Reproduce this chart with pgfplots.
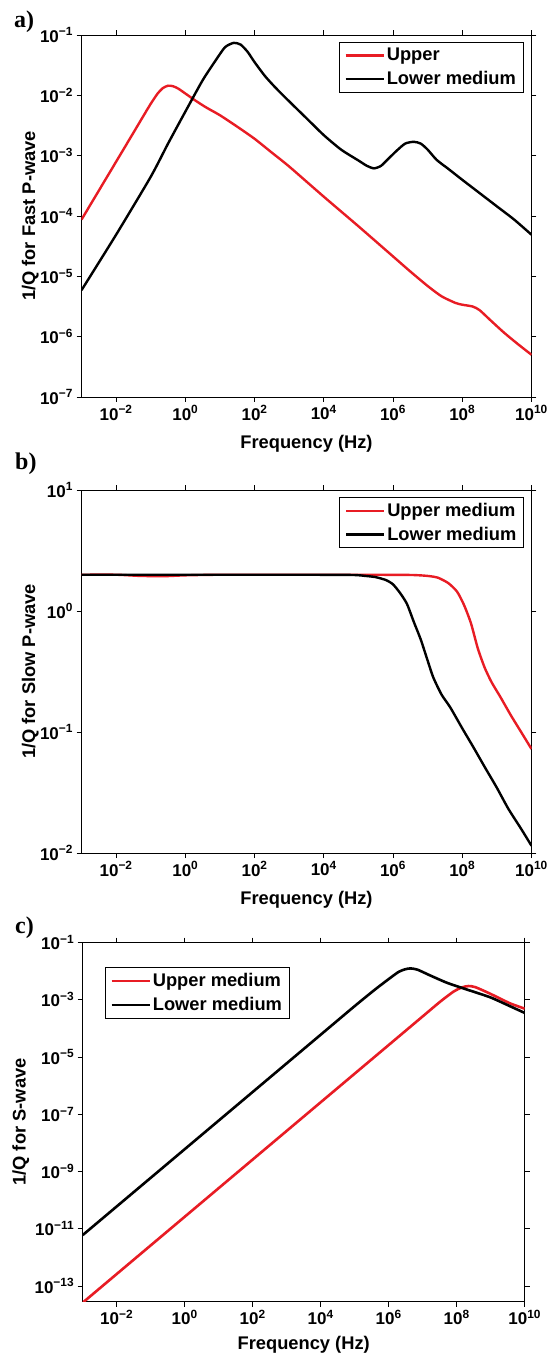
\documentclass[border=0pt]{standalone}
\usepackage{pgfplots}
\pgfplotsset{compat=1.18}
\usepackage{fontspec}
\setmainfont{Liberation Sans}
\newfontfamily\serifb{Liberation Serif}
\definecolor{myred}{RGB}{232,28,36}
\newcommand\logtick[1]{\pgfmathtruncatemacro\myexp{round(#1)}\textbf{10\textsuperscript{\ifnum\myexp<0 −\the\numexpr-\myexp\relax\else\myexp\fi}}}
\pgfplotsset{
  every axis/.append style={
    scale only axis,
    tick align=outside,
    major tick length=5pt, minor tick length=3pt,
    axis line style={line width=0.9pt},
    every tick/.style={black, line width=0.8pt},
    ticklabel style={font=\fontsize{17}{19}\selectfont},
    label style={font=\fontsize{18.3}{20}\selectfont\bfseries},
    legend style={font=\fontsize{18.3}{20}\selectfont\bfseries, draw=black, line width=0.9pt, inner xsep=5pt, inner ysep=4pt, row sep=5pt},
    legend cell align=left,
  },
  every axis plot/.append style={line width=2.4pt, no marks, smooth, tension=0.4},
}
\begin{document}
\begin{tikzpicture}
\useasboundingbox (0,0) rectangle (551pt,-1356pt);
% ---------------- panel a
\begin{axis}[
  xmode=log, ymode=log, log basis x=10, log basis y=10,
  xmin=1e-3, xmax=1e10,
  xtick={1e-2,1,1e2,1e4,1e6,1e8,1e10}, minor xtick={},
  xticklabel={\logtick{\tick}}, yticklabel={\logtick{\tick}},
  legend image code/.code={\draw[#1, line width=2.4pt] (0pt,0pt) -- (38pt,0pt);},
  at={(81.5pt,-397pt)}, anchor=south west, width=450pt, height=362pt,
  ymin=1e-7, ymax=1e-1,
  ytick={1e-7,1e-6,1e-5,1e-4,1e-3,1e-2,1e-1},
  xlabel={Frequency (Hz)},
  xlabel style={at={(axis description cs:0.5,-0.141)}, anchor=base},
  ylabel style={at={(axis description cs:-0.103,0.5)}, anchor=base},
  ylabel={1/Q for Fast P-wave},
  legend style={at={(0.982,0.981)}, anchor=north east},
]
\addplot[myred] coordinates {
(1e-3,8.71e-5) (3.162e-3,2.630e-4) (1e-2,7.943e-4) (3.162e-2,2.399e-3) (6.310e-2,4.677e-3)
(0.1,7.244e-3) (0.1585,1.072e-2) (0.2239,1.318e-2) (0.3162,1.445e-2) (0.4467,1.413e-2)
(0.6310,1.288e-2) (1,1.072e-2) (1.995,8.128e-3) (3.981,6.310e-3) (10,4.677e-3)
(31.62,3.020e-3) (100,1.905e-3) (316.2,1.122e-3) (1000,6.607e-4) (1e4,2.089e-4)
(1e5,6.761e-5) (1e6,2.138e-5) (3.162e6,1.202e-5) (1e7,6.918e-6) (2.512e7,4.677e-6)
(6.310e7,3.631e-6) (1e8,3.388e-6) (1.995e8,3.162e-6) (3.162e8,2.754e-6) (6.310e8,1.905e-6)
(1.585e9,1.175e-6) (3.981e9,7.586e-7) (1e10,5.012e-7)};
\addlegendentry{Upper}
\addplot[black] coordinates {
(1e-3,5.888e-6) (1e-2,4.9e-5) (0.1,4.467e-4) (0.3162,1.585e-3) (1,5.370e-3)
(3.162,1.778e-2) (7.943,3.981e-2) (14.13,6.310e-2) (25.12,7.413e-2) (39.81,6.918e-2)
(63.10,5.248e-2) (100,3.548e-2) (199.5,2.089e-2) (398.1,1.349e-2) (1000,7.943e-3)
(3162,4.169e-3) (1e4,2.188e-3) (3.162e4,1.259e-3) (1e5,8.318e-4) (1.778e5,6.761e-4)
(2.818e5,6.166e-4) (4.467e5,6.761e-4) (7.079e5,8.710e-4) (1.259e6,1.202e-3) (2.239e6,1.585e-3)
(3.981e6,1.698e-3) (6.310e6,1.585e-3) (1e7,1.259e-3) (1.820e7,8.511e-4) (3.981e7,6.026e-4)
(1e8,3.981e-4) (3.162e8,2.399e-4) (1e9,1.445e-4) (3.162e9,8.710e-5) (1e10,4.898e-5)};
\addlegendentry{Lower medium}
\end{axis}
\node[font=\serifb\bfseries\fontsize{24}{26}\selectfont, anchor=base west, inner sep=0pt] at (14pt,-27.5pt) {a)};
% ---------------- panel b
\begin{axis}[
  xmode=log, ymode=log, log basis x=10, log basis y=10,
  xmin=1e-3, xmax=1e10,
  xtick={1e-2,1,1e2,1e4,1e6,1e8,1e10}, minor xtick={},
  xticklabel={\logtick{\tick}}, yticklabel={\logtick{\tick}},
  legend image code/.code={\draw[#1, line width=2.4pt] (0pt,0pt) -- (38pt,0pt);},
  at={(81.5pt,-853pt)}, anchor=south west, width=450pt, height=363pt,
  ymin=1e-2, ymax=10,
  ytick={1e-2,1e-1,1,10},
  xlabel={Frequency (Hz)},
  xlabel style={at={(axis description cs:0.5,-0.141)}, anchor=base},
  ylabel style={at={(axis description cs:-0.103,0.5)}, anchor=base},
  ylabel={1/Q for Slow P-wave},
  legend style={at={(0.983,0.981)}, anchor=north east},
]
\addplot[myred] coordinates {
(1e-3,1.995) (1e-2,1.995) (0.05012,1.950) (0.2512,1.941) (1,1.972) (10,1.995)
(1e3,1.995) (1e5,1.995) (3.162e6,1.986) (1e7,1.950) (1.995e7,1.884) (3.981e7,1.698)
(7.079e7,1.445) (1.122e8,1.122) (1.778e8,0.7943) (2.818e8,0.4898) (4.467e8,0.3388)
(7.079e8,0.2570) (1.259e9,0.1950) (2.512e9,0.1380) (5.012e9,0.1) (1e10,0.07244)};
\addlegendentry{Upper medium}
\addplot[black] coordinates {
(1e-3,1.995) (1e-1,1.995) (10,1.995) (1e3,1.995) (6.310e4,1.986) (1.585e5,1.950)
(3.162e5,1.905) (6.310e5,1.800) (1e6,1.660) (1.585e6,1.413) (2.512e6,1.148)
(3.981e6,0.8128) (6.310e6,0.5821) (1e7,0.3890) (1.445e7,0.2838) (2.512e7,0.2042)
(4.467e7,0.1603) (1e8,0.1072) (2.089e8,0.07499) (4.467e8,0.05129) (9.772e8,0.03499)
(2.138e9,0.02323) (5.012e9,0.01585) (1e10,0.01148)};
\addlegendentry{Lower medium}
\end{axis}
\node[font=\serifb\bfseries\fontsize{24}{26}\selectfont, anchor=base west, inner sep=0pt] at (15pt,-469.7pt) {b)};
% ---------------- panel c
\begin{axis}[
  xmode=log, ymode=log, log basis x=10, log basis y=10,
  xmin=1e-3, xmax=1e10,
  xtick={1e-2,1,1e2,1e4,1e6,1e8,1e10}, minor xtick={},
  xticklabel={\logtick{\tick}}, yticklabel={\logtick{\tick}},
  legend image code/.code={\draw[#1, line width=2.6pt] (0pt,0pt) -- (38pt,0pt);},
  every axis plot/.append style={line width=2.6pt},
  at={(82.7pt,-1301.5pt)}, anchor=south west, width=442pt, height=359pt,
  ymin=2.88e-14, ymax=1e-1,
  ytick={1e-13,1e-11,1e-9,1e-7,1e-5,1e-3,1e-1},
  minor ytick={},
  xlabel={Frequency (Hz)},
  xlabel style={at={(axis description cs:0.5,-0.135)}, anchor=base},
  ylabel style={at={(axis description cs:-0.129,0.5)}, anchor=base},
  ylabel={1/Q for S-wave},
  legend style={at={(0.05,0.931)}, anchor=north west},
]
\addplot[myred] coordinates {
(1e-3,2.630e-14) (1,2.630e-11) (1e4,2.630e-7) (1e7,2.630e-4) (3.162e7,8.318e-4)
(7.943e7,1.905e-3) (1.413e8,2.692e-3) (2.239e8,3.020e-3) (3.548e8,2.754e-3)
(9.333e8,1.660e-3) (3.631e9,7.586e-4) (1e10,4.898e-4)};
\addlegendentry{Upper medium}
\addplot[black] coordinates {
(1e-3,6.026e-12) (1,6.026e-9) (1e4,6.026e-5) (1e5,6.026e-4) (3.981e5,2.291e-3)
(1.072e6,5.623e-3) (1.995e6,9.550e-3) (3.162e6,1.175e-2) (4.467e6,1.245e-2) (7.079e6,1.122e-2)
(1.585e7,7.244e-3) (5.012e7,3.981e-3) (1.380e8,2.630e-3) (3.162e8,1.905e-3) (1e9,1.202e-3)
(3.631e9,6.026e-4) (1e10,3.467e-4)};
\addlegendentry{Lower medium}
\end{axis}
\node[font=\serifb\bfseries\fontsize{24}{26}\selectfont, anchor=base west, inner sep=0pt] at (15pt,-933.4pt) {c)};
\end{tikzpicture}
\end{document}
